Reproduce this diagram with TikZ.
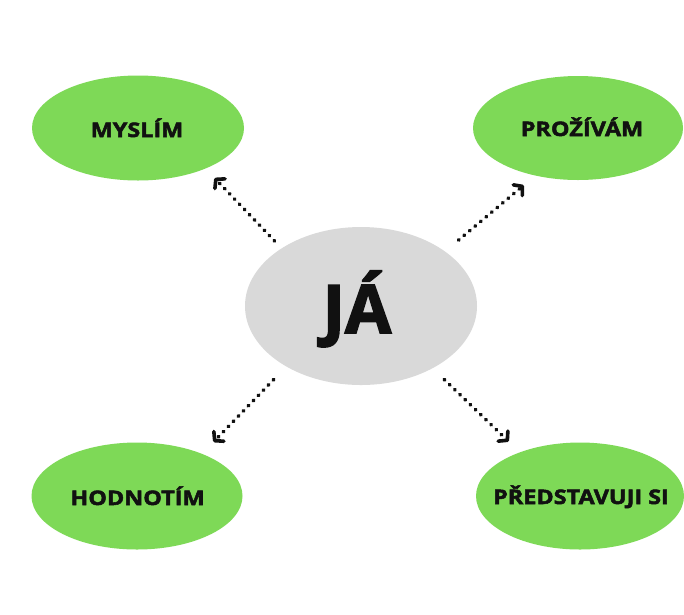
\documentclass[tikz,border=0pt]{standalone}
\usepackage{fontspec}
\setmainfont{Open Sans}[BoldFeatures={FakeBold=2.5}]
\newfontfamily\widefont{Open Sans}[BoldFeatures={FakeBold=2.5,FakeStretch=1.17}]
\usetikzlibrary{arrows.meta,shapes.geometric}
\definecolor{leaf}{HTML}{7ED957}
\definecolor{core}{HTML}{D9D9D9}
\definecolor{ink}{HTML}{111111}
\begin{document}
\begin{tikzpicture}[x=1pt,y=-1pt,
  petal/.style={ellipse, fill=leaf, inner sep=0pt},
  lbl/.style={anchor=base, inner sep=0pt, text=ink, font=\widefont\fontsize{20}{20}\selectfont\bfseries},
  dotarrow/.style={line width=3.8pt, line cap=round, dash pattern=on 0.6pt off 6.6pt, ink,
    -{Straight Barb[length=6pt,width=14pt,round,line width=3.6pt 0]}}]
\useasboundingbox[fill=white] (0,0) rectangle (684,614);
\node[ellipse, fill=core, inner sep=0pt, minimum width=232pt, minimum height=158pt] (c) at (361,306) {};
\node[petal, minimum width=212pt, minimum height=105pt] (tl) at (138,128) {};
\node[petal, minimum width=210pt, minimum height=104pt] (tr) at (578,128) {};
\node[petal, minimum width=211pt, minimum height=107pt] (bl) at (137,496) {};
\node[petal, minimum width=208pt, minimum height=107pt] (br) at (580,496) {};
\node[lbl] (tlt) at (137,137) {MYSLÍM};
\node[lbl] (trt) at (582,136) {PROŽÍVÁM};
\node[lbl] (blt) at (137.5,505) {HODNOTÍM};
\node[lbl] (brt) at (581,504) {PŘEDSTAVUJI SI};
\node[anchor=base, inner sep=0pt, text=ink, font=\fontsize{67}{67}\selectfont\bfseries] (ct) at (357,333) {JÁ};
\draw[dotarrow, shorten <=10pt, shorten >=13pt] (c.144.9) -- (tl.-31.8);
\draw[dotarrow, shorten <=17.5pt, shorten >=14.8pt] (c.33.2) -- (tr.228.1);
\draw[dotarrow, shorten <=18pt, shorten >=16.3pt] (c.219.9) -- (bl.33.4);
\draw[dotarrow, shorten <=16.1pt, shorten >=15.4pt] (c.-41.8) -- (br.144.5);
\end{tikzpicture}
\end{document}
